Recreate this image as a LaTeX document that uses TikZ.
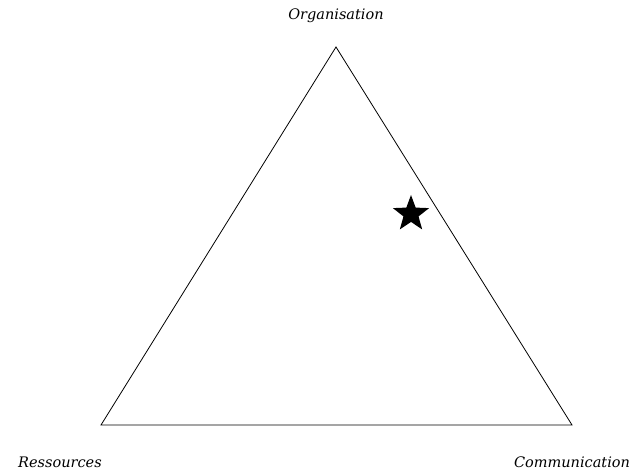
\documentclass[tikz,border=0pt]{standalone}
\usepackage{fontspec}
\setmainfont{DejaVu Serif}
\usetikzlibrary{shapes.geometric}
\begin{document}
\begin{tikzpicture}[x=1pt,y=-1pt,
  lbl/.style={font=\fontsize{14.5}{17}\selectfont\itshape, inner sep=0pt},
  edge/.style={draw=black, line width=0.8pt, line join=miter},
  starmark/.style={star, star points=5, star point ratio=2.4, fill=black, draw=none, minimum size=38pt, inner sep=0pt}]
\useasboundingbox (0,0) rectangle (638,473);
\coordinate (top) at (336,47);
\coordinate (bl) at (101,425);
\coordinate (br) at (572,425);
\draw[edge] (top) -- (bl) -- (br) -- cycle;
\node[starmark] (s) at (411,214) {};
\node[lbl] (org) at (336,16) {Organisation};
\node[lbl] (res) at (60,462) {Ressources};
\node[lbl] (com) at (572,462) {Communication};
\end{tikzpicture}
\end{document}
